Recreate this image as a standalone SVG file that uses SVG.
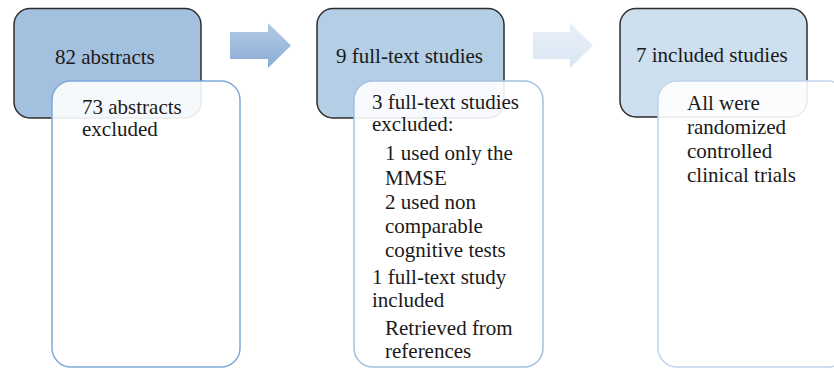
<svg xmlns="http://www.w3.org/2000/svg" width="834" height="368" viewBox="0 0 834 368">
<defs>
<linearGradient id="ga1" x1="0" y1="0" x2="0" y2="1">
<stop offset="0" stop-color="#b3cae4"/>
<stop offset="1" stop-color="#8cacd6"/>
</linearGradient>
<linearGradient id="ga2" x1="0" y1="0" x2="0" y2="1">
<stop offset="0" stop-color="#e8eff8"/>
<stop offset="1" stop-color="#dae6f3"/>
</linearGradient>
<style>
text{font-family:"Liberation Serif","Times New Roman",serif;font-size:21px;fill:#1a1a1a}
.top{stroke:#2e2e2e;stroke-width:1.5}
.sub{fill:#ffffff;fill-opacity:0.9;stroke-width:1.5}
</style>
</defs>
<rect width="834" height="368" fill="#ffffff"/>
<g id="connectors">
<path d="M230,32 H268 V23 L291,45.5 L268,68 V59 H230 Z" fill="url(#ga1)"/>
<path d="M533,32 H570 V23 L593,45.5 L570,68 V59 H533 Z" fill="url(#ga2)"/>
</g>
<g id="node1">
<rect class="top" x="14" y="8.5" width="187" height="109.5" rx="16" fill="#a4c0df"/>
<rect class="sub" x="52" y="81" width="188" height="286" rx="19" stroke="#7ea9da"/>
<text x="55" y="64">82 abstracts</text>
<text x="82" y="114">73 abstracts</text>
<text x="82" y="136">excluded</text>
</g>
<g id="node2">
<rect class="top" x="317" y="8.5" width="187" height="109.5" rx="16" fill="#b4cee6"/>
<rect class="sub" x="354" y="81" width="189" height="286" rx="19" stroke="#a2c1e3"/>
<text x="336" y="63">9 full-text studies</text>
<text x="372" y="109">3 full-text studies</text>
<text x="372" y="131">excluded:</text>
<text x="385" y="160">1 used only the</text>
<text x="385" y="185">MMSE</text>
<text x="385" y="209">2 used non</text>
<text x="385" y="233">comparable</text>
<text x="385" y="257">cognitive tests</text>
<text x="372" y="284">1 full-text study</text>
<text x="372" y="307">included</text>
<text x="385" y="335">Retrieved from</text>
<text x="385" y="358">references</text>
</g>
<g id="node3">
<rect class="top" x="620" y="8.5" width="187" height="108.5" rx="16" fill="#cedfef"/>
<rect class="sub" x="658" y="81" width="189" height="286" rx="19" stroke="#c0d5ec"/>
<text x="636" y="62">7 included studies</text>
<text x="687" y="110">All were</text>
<text x="687" y="134">randomized</text>
<text x="687" y="158">controlled</text>
<text x="687" y="182">clinical trials</text>
</g>
</svg>
